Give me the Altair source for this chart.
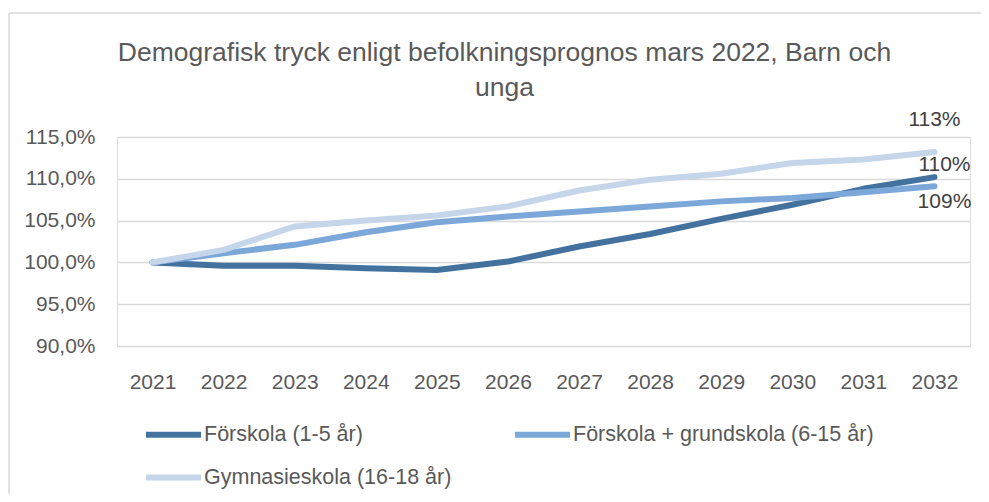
import altair as alt
import pandas as pd

years = [2021, 2022, 2023, 2024, 2025, 2026, 2027, 2028, 2029, 2030, 2031, 2032]
series_names = ["Förskola (1-5 år)", "Förskola + grundskola (6-15 år)", "Gymnasieskola (16-18 år)"]
forskola = [100.0, 99.6, 99.6, 99.3, 99.1, 100.1, 101.9, 103.4, 105.2, 106.9, 108.8, 110.2]
grundskola = [100.0, 101.1, 102.1, 103.6, 104.8, 105.5, 106.1, 106.7, 107.3, 107.7, 108.4, 109.1]
gymnasie = [100.0, 101.5, 104.3, 105.0, 105.6, 106.7, 108.6, 109.9, 110.6, 111.9, 112.3, 113.2]
y_ticks = [90, 95, 100, 105, 110, 115]
colors = ["#44729E", "#7BA7D9", "#C5D5EA"]
title_lines = ["Demografisk tryck enligt befolkningsprognos mars 2022, Barn och", "unga"]

rows = []
for name, vals in zip(series_names, [forskola, grundskola, gymnasie]):
    for yr, v in zip(years, vals):
        rows.append({"År": str(yr), "Serie": name, "Värde": v})
df = pd.DataFrame(rows)

FONT = "Liberation Sans"
GREY = "#595959"

x_enc = alt.X("År:O", scale=alt.Scale(type="point", padding=0.5),
              axis=alt.Axis(title=None, labelAngle=0, domain=False, ticks=False,
                            labelPadding=25, labelFontSize=21, labelColor=GREY,
                            labelFont=FONT, grid=False))
y_enc = alt.Y("Värde:Q", scale=alt.Scale(domain=[90, 115], nice=False, zero=False),
              axis=alt.Axis(title=None, values=y_ticks,
                            labelExpr="replace(format(datum.value, '.1f'), '.', ',') + '%'",
                            domain=False, ticks=False, gridColor="#D9D9D9", gridWidth=1.5,
                            labelPadding=22, labelFontSize=21, labelColor=GREY, labelFont=FONT))
color_enc = alt.Color("Serie:N", scale=alt.Scale(domain=series_names, range=colors),
                      legend=alt.Legend(title=None, orient="none", legendX=26, legendY=267,
                                        direction="horizontal", columns=2, columnPadding=51,
                                        rowPadding=-6, symbolType="stroke", symbolSize=3025,
                                        symbolStrokeWidth=6, labelFontSize=21.5, labelFont=FONT,
                                        labelColor=GREY, labelOffset=0, labelLimit=400))

base = alt.Chart(df)
lines = base.mark_line(strokeWidth=6, strokeCap="round", strokeJoin="round").encode(
    x=x_enc, y=y_enc, color=color_enc, order=alt.Order("År:O"))

end = base.transform_filter(alt.datum["År"] == str(years[-1])).transform_calculate(
    lab="round(datum['Värde']) + '%'")
label_style = dict(fontSize=21, font=FONT, color="#404040", align="center")
lab_gym = end.transform_filter(alt.datum.Serie == series_names[2]).mark_text(dy=-32, dx=0, **label_style).encode(
    x="År:O", y="Värde:Q", text="lab:N")
lab_for = end.transform_filter(alt.datum.Serie == series_names[0]).mark_text(dy=-12, dx=10, **label_style).encode(
    x="År:O", y="Värde:Q", text="lab:N")
lab_gru = end.transform_filter(alt.datum.Serie == series_names[1]).mark_text(dy=16, dx=10, **label_style).encode(
    x="År:O", y="Värde:Q", text="lab:N")

one = pd.DataFrame({"a": [0]})
border_left = alt.Chart(one).mark_rule(stroke="#D9D9D9", strokeWidth=1.5).encode(
    x=alt.value(-108), y=alt.value(-124), y2=alt.value(400))
border_top = alt.Chart(one).mark_rule(stroke="#D9D9D9", strokeWidth=1.5).encode(
    x=alt.value(-108), x2=alt.value(880), y=alt.value(-124))

chart = alt.layer(border_left, border_top, lines, lab_gym, lab_for, lab_gru).properties(
    width=853, height=209,
    title=alt.TitleParams(text=title_lines, fontSize=26.5, font=FONT, color=GREY,
                          fontWeight="normal", anchor="middle", dx=-39, offset=-89,
                          lineHeight=35),
    autosize=alt.AutoSizeParams(type="none"),
    padding={"left": 109, "top": 129, "right": 11, "bottom": 148},
).configure_view(stroke=None).configure(background="white")

chart.save("out.html", embed_options={"renderer": "svg", "actions": False})
